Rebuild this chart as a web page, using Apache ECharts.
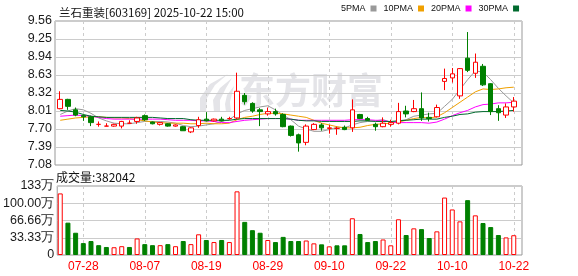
<!DOCTYPE html>
<html><head><meta charset="utf-8">
<script src="https://cdn.jsdelivr.net/npm/echarts@6/dist/echarts.min.js"></script>
<style>html,body{margin:0;padding:0;background:#fff}#c{width:578px;height:276px}</style>
</head><body><div id="c"></div>
<script>
const titleText = '兰石重装[603169] 2025-10-22 15:00';
const dates = ['07-23','07-24','07-25','07-28','07-29','07-30','07-31',
'08-01','08-04','08-05','08-06','08-07','08-08','08-11','08-12','08-13','08-14','08-15','08-18','08-19','08-20','08-21','08-22','08-25','08-26','08-27','08-28','08-29',
'09-01','09-02','09-03','09-04','09-05','09-08','09-09','09-10','09-11','09-12','09-15','09-16','09-17','09-18','09-19','09-22','09-23','09-24','09-25','09-26','09-29','09-30',
'10-09','10-10','10-13','10-14','10-15','10-16','10-17','10-20','10-21','10-22'];
const labelDates = ['07-28','08-07','08-19','08-29','09-10','09-22','10-10','10-22'];
const opens  = [8.05,8.21,8.03,7.93,7.91,7.78,7.75,7.75,7.75,7.80, 7.83,7.93,7.82,7.78,7.79,7.75,7.74,7.65,7.76,7.87, 7.84,7.87,7.88,7.89,8.28,8.14,8.03,7.96,8.00,7.95, 7.75,7.60,7.47,7.69,7.77,7.71,7.71,7.73,7.72,7.95, 7.88,7.78,7.74,7.78,7.80,8.01,8.00,8.05,7.90,7.91, 8.52,8.58,8.27,8.92,8.66,8.78,8.48,8.05,7.94,8.08];
const closes = [8.21,8.09,7.94,7.91,7.81,7.78,7.75,7.78,7.83,7.80, 7.89,7.86,7.79,7.81,7.75,7.77,7.67,7.72,7.86,7.84, 7.87,7.84,7.88,8.35,8.17,8.01,8.00,8.00,7.96,7.74, 7.59,7.46,7.75,7.78,7.72,7.72,7.71,7.69,8.03,7.88, 7.85,7.74,7.80,7.81,8.00,7.96,8.05,7.89,7.88,8.07, 8.57,8.65,8.74,8.71,8.85,8.46,8.00,7.98,8.08,8.18];
const lows   = [8.04,8.03,7.92,7.84,7.75,7.74,7.75,7.74,7.71,7.80, 7.79,7.84,7.78,7.76,7.74,7.74,7.67,7.63,7.72,7.83, 7.83,7.83,7.86,7.87,8.12,7.98,7.75,7.93,7.93,7.73, 7.57,7.31,7.42,7.68,7.67,7.62,7.60,7.68,7.65,7.87, 7.84,7.67,7.73,7.74,7.78,7.90,7.99,7.84,7.83,7.90, 8.37,8.50,8.22,8.68,8.58,8.44,7.94,7.84,7.89,8.00];
const highs  = [8.35,8.22,8.07,7.95,7.93,7.83,7.80,7.79,7.84,7.85, 7.91,7.95,7.83,7.82,7.80,7.78,7.75,7.73,7.91,7.99, 7.88,7.91,7.91,8.67,8.32,8.16,8.06,8.07,8.05,7.97, 7.76,7.62,7.78,7.80,7.80,7.77,7.74,7.76,8.21,7.96, 7.91,7.81,7.90,7.86,8.15,8.10,8.20,8.33,7.98,8.12, 8.74,8.75,8.75,9.37,9.00,8.82,8.49,8.11,8.14,8.25];
const volumes = [1190000,625000,430000,230000,270000,190000,155000,150000,170000,155000,
 320000,210000,190000,190000,210000,170000,270000,210000,400000,290000,
 250000,290000,250000,1230000,640000,480000,430000,290000,250000,350000,
 270000,270000,280000,225000,206000,167000,187000,187000,710000,406000,
 250000,270000,300000,187000,690000,386000,515000,500000,328000,457000,
 1110000,880000,650000,1060000,766000,618000,540000,386000,340000,382042];
const ma5  = [7.95,8.01,8.05,8.03,7.97,7.89,7.84,7.80,7.79,7.79, 7.81,7.83,7.83,7.83,7.82,7.80,7.76,7.74,7.75,7.77, 7.79,7.83,7.86,7.96,8.02,8.05,8.08,8.10,8.03,7.94, 7.86,7.75,7.70,7.66,7.66,7.69,7.73,7.72,7.77,7.81, 7.83,7.84,7.86,7.82,7.84,7.86,7.92,7.94,7.96,7.97, 8.09,8.21,8.38,8.55,8.70,8.68,8.55,8.40,8.27,8.15];
const ma10 = [7.85,7.87,7.89,7.90,7.91,7.91,7.90,7.89,7.89,7.88, 7.86,7.84,7.82,7.81,7.80,7.80,7.80,7.79,7.79,7.80, 7.79,7.79,7.80,7.86,7.90,7.92,7.95,7.97,7.97,7.96, 7.94,7.92,7.90,7.85,7.80,7.77,7.74,7.72,7.72,7.73, 7.76,7.78,7.79,7.80,7.82,7.85,7.88,7.90,7.89,7.91, 7.98,8.07,8.16,8.25,8.34,8.39,8.38,8.39,8.41,8.42];
const ma20 = [7.92,7.93,7.94,7.93,7.92,7.90,7.88,7.87,7.87,7.87, 7.87,7.87,7.87,7.87,7.86,7.85,7.85,7.85,7.84,7.84, 7.83,7.81,7.81,7.83,7.85,7.86,7.87,7.88,7.88,7.88, 7.87,7.85,7.85,7.85,7.85,7.85,7.85,7.85,7.86,7.86, 7.86,7.85,7.85,7.82,7.81,7.81,7.81,7.81,7.80,7.82, 7.87,7.93,7.98,8.02,8.08,8.12,8.13,8.15,8.15,8.16];
const ma30 = [8.02,8.01,7.99,7.95,7.92,7.91,7.90,7.90,7.90,7.90, 7.90,7.90,7.90,7.89,7.88,7.88,7.88,7.86,7.85,7.85, 7.85,7.85,7.85,7.87,7.88,7.88,7.88,7.88,7.88,7.88, 7.87,7.85,7.84,7.84,7.83,7.83,7.83,7.83,7.83,7.84, 7.84,7.83,7.83,7.83,7.84,7.85,7.86,7.87,7.87,7.87, 7.90,7.92,7.95,7.96,7.99,8.00,8.00,8.00,8.01,8.02];
const maNames = ['5PMA','10PMA','20PMA','30PMA'];
const priceTicks = [7.08,7.39,7.70,8.01,8.32,8.63,8.94,9.25,9.56];
const volTicks = [0,333300,666600,1000000,1333300];
const volTickLabels = ['0','33.33万','66.66万','100.00万','133万'];
const volTitle = '成交量';

const UP = '#ff0000', DOWN = '#008000';
const maColors = ['#999999','#f0a000','#ff00ff','#006a2e'];
const maData = [ma5, ma10, ma20, ma30];

const candleData = dates.map((d,i)=>[opens[i],closes[i],lows[i],highs[i]]);
const volData = volumes.map((v,i)=>{
  let up = closes[i] > opens[i] ? true : closes[i] < opens[i] ? false : (i>0 ? closes[i] >= closes[i-1] : true);
  return {value:v, itemStyle: up ? {color:'#ffffff', borderColor:UP, borderWidth:1} : {color:DOWN, borderColor:DOWN, borderWidth:1}};
});
const showIdx = (idx)=> labelDates.indexOf(dates[idx]) >= 0;
const dash = {color:'#cccccc', type:[3,3], width:1};
const FONT = "'Liberation Sans', Arial, sans-serif";
const CJK = "'Noto Sans CJK SC', sans-serif";
const WM = '#e4e4e8';

const chart = echarts.init(document.getElementById('c'), null, {renderer:'canvas'});
chart.setOption({
  animation:false,
  backgroundColor:'#ffffff',
  title:{text:titleText, left:54, top:2, textStyle:{fontSize:11.5, fontWeight:'normal', color:'#111', fontFamily:CJK}},
  legend:{data:maNames, left:341, top:4, icon:'rect', itemWidth:6, itemHeight:6, itemGap:7, align:'right', padding:0,
    textStyle:{fontSize:9, color:'#111', fontFamily:FONT}},
  graphic:[
    {type:'text', left:239, top:72, z:0, silent:true, style:{text:'东方财富', fontSize:36, fontWeight:'bold', fill:WM, fontFamily:CJK}},
    {type:'group', left:200, top:74, z:0, silent:true, children:[
      {type:'polygon', shape:{points:[[30,0],[12,10],[2,24],[2,38],[8,38],[9,24],[17,11]]}, style:{fill:WM}},
      {type:'polygon', shape:{points:[[34,4],[22,14],[15,26],[16,38],[22,38],[22,26],[28,14]]}, style:{fill:WM}},
      {type:'polygon', shape:{points:[[36,12],[29,21],[27,30],[28,38],[33,38],[32,28]]}, style:{fill:WM}}
    ]},
    {type:'text', left:56, top:171, style:{text:volTitle + ':' + volumes[volumes.length-1], fontSize:12, fill:'#111', fontFamily:CJK}}
  ],
  grid:[
    {left:55, top:21, width:467, height:144, show:true, borderColor:'#999', borderWidth:1, backgroundColor:'transparent'},
    {left:56.4, top:21, width:461.2, height:144},
    {left:55, top:186, width:467, height:69, show:true, borderColor:'#999', borderWidth:1, backgroundColor:'transparent'},
    {left:56.4, top:186, width:461.2, height:69}
  ],
  xAxis:[
    {gridIndex:0, type:'value', min:0, max:1, show:false},
    {gridIndex:1, type:'category', data:dates, boundaryGap:true, axisLine:{show:false}, axisTick:{show:false, alignWithLabel:true, interval:showIdx}, axisLabel:{show:false, interval:showIdx},
      splitLine:{show:true, interval:showIdx, alignWithLabel:true, lineStyle:dash}},
    {gridIndex:2, type:'value', min:0, max:1, show:false},
    {gridIndex:3, type:'category', data:dates, boundaryGap:true, axisLine:{show:false}, axisTick:{show:false, alignWithLabel:true, interval:showIdx},
      axisLabel:{interval:showIdx, color:'#ff0000', fontSize:12, margin:6, fontFamily:FONT},
      splitLine:{show:true, interval:showIdx, alignWithLabel:true, lineStyle:dash}}
  ],
  yAxis:[
    {gridIndex:0, type:'value', min:7.08, max:9.56, axisLine:{show:false}, axisTick:{show:false, customValues:priceTicks},
      axisLabel:{customValues:priceTicks, formatter:(v)=>v.toFixed(2), color:'#1a1a1a', fontSize:12.5, margin:3, fontFamily:FONT},
      splitLine:{show:true, lineStyle:{color:'#cccccc', width:1}}},
    {gridIndex:1, type:'value', min:7.08, max:9.56, show:false, splitLine:{show:false}},
    {gridIndex:2, type:'value', min:0, max:1333300, axisLine:{show:false}, axisTick:{show:false, customValues:volTicks},
      axisLabel:{customValues:volTicks, formatter:(v)=>{const k=volTicks.indexOf(v); return k>=0?volTickLabels[k]:'';}, color:'#1a1a1a', fontSize:12.5, margin:3, fontFamily:FONT},
      splitLine:{show:true, lineStyle:{color:'#cccccc', width:1}}},
    {gridIndex:3, type:'value', min:0, max:1333300, show:false, splitLine:{show:false}}
  ],
  series:[
    ...maNames.map((n,k)=>({name:n, type:'line', xAxisIndex:1, yAxisIndex:1, data:maData[k], symbol:'none', showSymbol:false,
      lineStyle:{color:maColors[k], width:1}, itemStyle:{color:maColors[k]}, z:2})),
    {name:'K', type:'candlestick', xAxisIndex:1, yAxisIndex:1, data:candleData, barWidth:5, z:3,
      itemStyle:{color:'#ffffff', color0:DOWN, borderColor:UP, borderColor0:DOWN, borderColorDoji:UP, borderWidth:1}},
    {name:'VOL', type:'bar', xAxisIndex:3, yAxisIndex:3, data:volData, barWidth:5}
  ]
});
</script></body></html>
